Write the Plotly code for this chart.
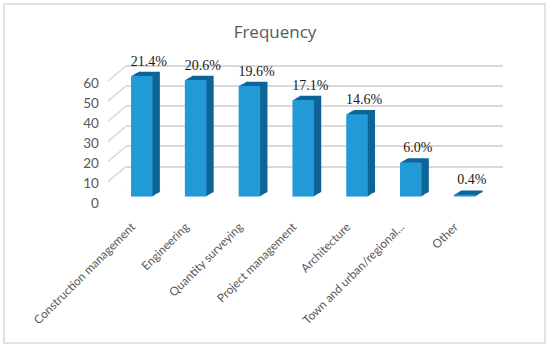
import plotly.graph_objects as go

# ---- data ----
categories = ["Construction management", "Engineering", "Quantity surveying",
              "Project management", "Architecture", "Town and urban/regional...", "Other"]
frequency = [60, 58, 55, 48, 41, 17, 1]
pct_labels = ["21.4%", "20.6%", "19.6%", "17.1%", "14.6%", "6.0%", "0.4%"]
y_ticks = [0, 10, 20, 30, 40, 50, 60]

# ---- layout geometry (pixels) ----
W, H = 550, 348
FX0, FX1 = 114.9, 491.5       # front plot x extent
FY0 = 196.7                   # pixel of y=0 on front
PPU = 2.012                   # pixels per unit
YMAX = 65
FY1 = FY0 - YMAX * PPU
BACK_DX, BACK_DY = 11, -10
DEPTH_DX, DEPTH_DY = 7.3, -4.3
NCOPIES = 6

FRONT = "#229AD8"
SIDE = "#0E6597"
GRID = "#D9D9D9"
GRAY = "#595959"


def xdom(dx):
    return [(FX0 + dx) / W, (FX1 + dx) / W]


def ydom(dy):
    return [(H - (FY0 + dy)) / H, (H - (FY1 + dy)) / H]


fig = go.Figure()
layout = dict(width=W, height=H, margin=dict(l=0, r=0, t=0, b=0, autoexpand=False),
              paper_bgcolor="white", plot_bgcolor="rgba(0,0,0,0)",
              showlegend=False, bargap=0.6)

xcommon = dict(type="category", categoryorder="array", categoryarray=categories,
               range=[-0.5, len(categories) - 0.5], showgrid=False, zeroline=False,
               showline=False, ticks="", automargin=False)
ycommon = dict(range=[0, YMAX], zeroline=False, showline=False, ticks="", automargin=False)

# subplot 1: back wall gridlines
fig.add_trace(go.Bar(x=categories, y=[0] * len(categories), xaxis="x", yaxis="y",
                     marker_color="rgba(0,0,0,0)", hoverinfo="skip"))
layout["xaxis"] = dict(xcommon, domain=xdom(BACK_DX), anchor="y", showticklabels=False)
layout["yaxis"] = dict(ycommon, domain=ydom(BACK_DY), anchor="x", showgrid=True,
                       gridcolor=GRID, gridwidth=1.5, tickvals=y_ticks, showticklabels=False)

# subplots 2..7: depth extrusion copies (furthest first)
for i in range(NCOPIES):
    k = NCOPIES - i
    n = i + 2
    dx = DEPTH_DX * k / NCOPIES
    dy = DEPTH_DY * k / NCOPIES
    fig.add_trace(go.Bar(
        x=categories, y=frequency, xaxis=f"x{n}", yaxis=f"y{n}",
        marker=dict(color=SIDE, line=dict(width=0)),
        text=pct_labels if k == NCOPIES else None,
        textposition="outside", cliponaxis=False, constraintext="none",
        textfont=dict(family="Liberation Serif", size=14, color="#1a1a1a"),
        hoverinfo="skip"))
    layout[f"xaxis{n}"] = dict(xcommon, domain=xdom(dx), anchor=f"y{n}", showticklabels=False)
    layout[f"yaxis{n}"] = dict(ycommon, domain=ydom(dy), anchor=f"x{n}", showgrid=False,
                               showticklabels=False)

# subplot 8: front faces with axes labels
n = NCOPIES + 2
fig.add_trace(go.Bar(x=categories, y=frequency, xaxis=f"x{n}", yaxis=f"y{n}",
                     marker=dict(color=FRONT, line=dict(width=0)),
                     hovertemplate="%{x}: %{y}<extra></extra>"))
layout[f"xaxis{n}"] = dict(xcommon, domain=xdom(0), anchor=f"y{n}", tickangle=-45,
                           ticklabelstandoff=20, ticklabelshift=-10,
                           tickfont=dict(family="Lato", size=11.8, color=GRAY))
layout[f"yaxis{n}"] = dict(ycommon, domain=ydom(0), anchor=f"x{n}", showgrid=False,
                           tickvals=y_ticks, ticklabelshift=7, ticklabelstandoff=15,
                           tickfont=dict(family="Lato", size=13.5, color=GRAY))

# perspective floor/tick diagonals linking labels to the back wall
shapes = []
for v in y_ticks:
    shapes.append(dict(type="line", xref="paper", yref="y",
                       x0=108 / W, x1=(FX0 + BACK_DX) / W,
                       y0=v - (5 - BACK_DY) / PPU, y1=v,
                       line=dict(color=GRID, width=1.5), layer="below"))
# outer border
shapes.append(dict(type="rect", xref="paper", yref="paper",
                   x0=4 / W, x1=545 / W, y0=(H - 343) / H, y1=(H - 4) / H,
                   line=dict(color=GRID, width=1.5)))
layout["shapes"] = shapes

layout["title"] = dict(text="Frequency", x=0.5, xanchor="center", y=(H - 32) / H,
                       yanchor="middle",
                       font=dict(family="Open Sans", size=17, color=GRAY))

fig.update_layout(**layout)
fig.write_html("out.html", config={"displayModeBar": False},
               post_script="document.body.style.margin='0';document.body.style.padding='0';")
